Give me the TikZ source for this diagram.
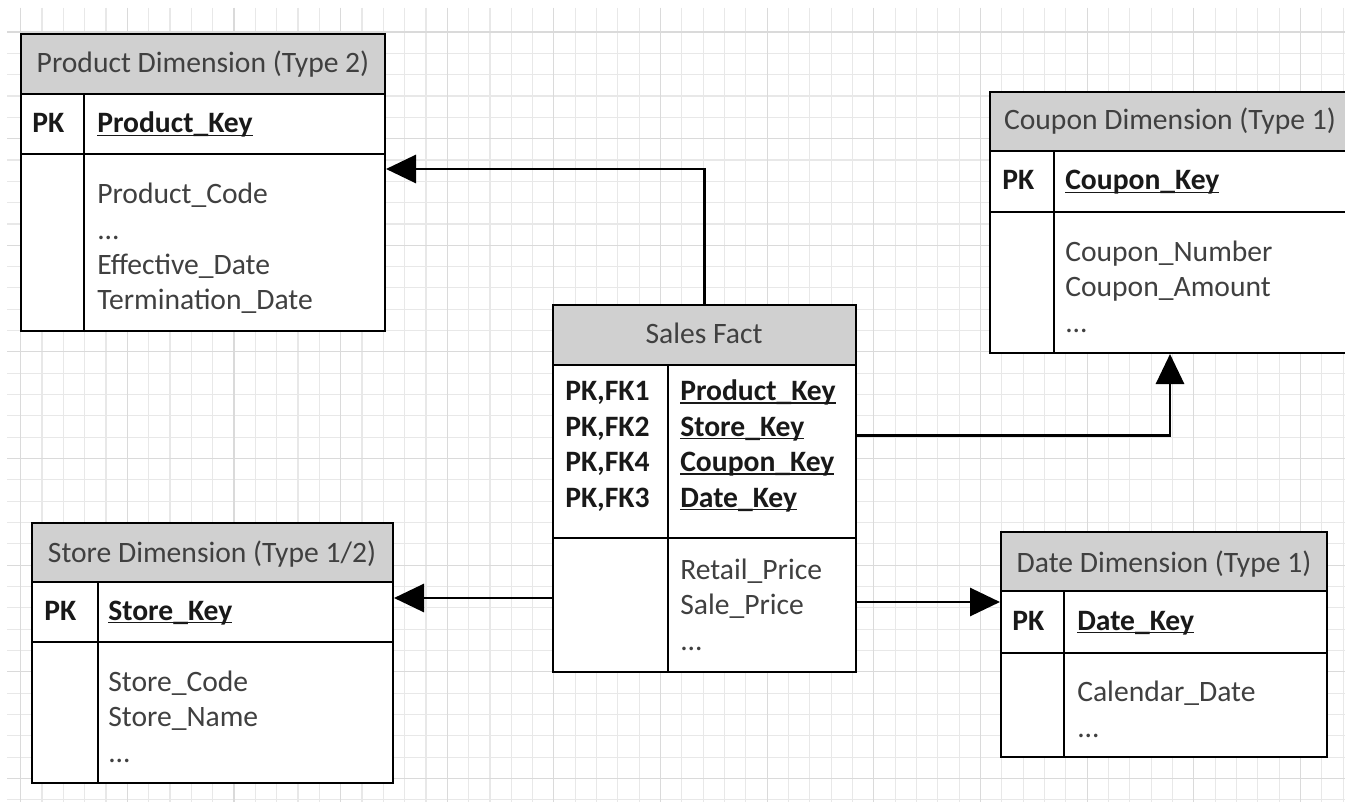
\documentclass[tikz,border=0pt]{standalone}
\usepackage{fontspec}
\setmainfont{Carlito}
\usetikzlibrary{arrows.meta,calc,fit}

\definecolor{headgray}{RGB}{208,208,208}
\definecolor{textgray}{RGB}{64,64,64}
\definecolor{gridminor}{RGB}{232,232,232}
\definecolor{gridmajor}{RGB}{218,218,218}

\newcommand\tblfont{\fontsize{22.2pt}{26.6pt}\selectfont}
\newcommand\keyline[1]{\setbox0\hbox{#1}\rlap{\rule[-2.4pt]{\wd0}{1.2pt}}\box0}

\tikzset{
  tblhead/.style={draw=black, line width=1.5pt, fill=headgray, inner sep=0pt},
  tblbody/.style={draw=black, line width=1.5pt, fill=white, inner sep=0pt},
  tblline/.style={draw=black, line width=1.5pt},
  headtxt/.style={anchor=base, inner sep=0pt, font=\tblfont, text=textgray},
  keytxt/.style={anchor=base west, inner sep=0pt, align=left, font=\tblfont\bfseries, text=black!90},
  attrtxt/.style={anchor=base west, inner sep=0pt, align=left, font=\tblfont, text=textgray},
  fk/.style={line width=2.2pt, -{Triangle[length=22.5pt, width=21pt]}},
  gridline/.style={draw=gridminor, line width=0.8pt},
  gridbold/.style={draw=gridmajor, line width=0.8pt}
}

\begin{document}
\begin{tikzpicture}[x=0.75pt, y=-0.75pt]
        \useasboundingbox (0,0) rectangle (1345,802);
        \fill[white] (0,0) rectangle (1345,802);

        % Grade
        \foreach \i in {0,...,62} \draw[gridline] ({20.7+21.33*\i},8) -- ({20.7+21.33*\i},802);
        \foreach \j in {0,...,36} \draw[gridline] (7,{32+21.33*\j}) -- (1345,{32+21.33*\j});
        \foreach \i in {0,5,...,60} \draw[gridbold] ({20.7+21.33*\i},8) -- ({20.7+21.33*\i},802);
        \foreach \j in {0,5,...,35} \draw[gridbold] (7,{32+21.33*\j}) -- (1345,{32+21.33*\j});

        % Product Dimension
        \node[tblhead, fit={(21,34) (385,94)}] (prodhead) {};
        \node[tblbody, fit={(21,94) (385,154)}] (prodkeys) {};
        \node[tblbody, fit={(21,154) (385,331)}] (prodattr) {};
        \coordinate (proddiv) at (84,94);
        \draw[tblline] (proddiv) -- (proddiv |- prodattr.south);
        \node[headtxt] (prodtitle) at (203,73) {Product Dimension (Type 2)};
        \node[keytxt] (prodpk) at (32,133) {PK};
        \node[keytxt] (prodkey) at (97,133) {\keyline{Product\_Key}};
        \node[attrtxt] (prodcols) at (97,310) {Product\_Code\\...\\Effective\_Date\\Termination\_Date};

        % Sales Fact
        \node[tblhead, fit={(553,305) (856,365)}] (saleshead) {};
        \node[tblbody, fit={(553,365) (856,538)}] (saleskeys) {};
        \node[tblbody, fit={(553,538) (856,672)}] (salesattr) {};
        \coordinate (salesdiv) at (668,365);
        \draw[tblline] (salesdiv) -- (salesdiv |- salesattr.south);
        \node[headtxt] (salestitle) at (704,343) {Sales Fact};
        \node[keytxt] (salespk) at (565,507) {PK,FK1\\PK,FK2\\PK,FK4\\PK,FK3};
        \node[keytxt] (saleskey) at (680,507) {\keyline{Product\_Key}\\\keyline{Store\_Key}\\\keyline{Coupon\_Key}\\\keyline{Date\_Key}};
        \node[attrtxt] (salescols) at (680,650) {Retail\_Price\\Sale\_Price\\...};

        % Coupon Dimension
        \node[tblhead, fit={(990,92) (1350,151)}] (couponhead) {};
        \node[tblbody, fit={(990,151) (1350,212)}] (couponkeys) {};
        \node[tblbody, fit={(990,212) (1350,353)}] (couponattr) {};
        \coordinate (coupondiv) at (1054,151);
        \draw[tblline] (coupondiv) -- (coupondiv |- couponattr.south);
        \node[headtxt] (coupontitle) at (1170,130) {Coupon Dimension (Type 1)};
        \node[keytxt] (couponpk) at (1002,190) {PK};
        \node[keytxt] (couponkey) at (1065,190) {\keyline{Coupon\_Key}};
        \node[attrtxt] (couponcols) at (1065,332) {Coupon\_Number\\Coupon\_Amount\\...};

        % Store Dimension
        \node[tblhead, fit={(32,523) (393,582)}] (storehead) {};
        \node[tblbody, fit={(32,582) (393,642)}] (storekeys) {};
        \node[tblbody, fit={(32,642) (393,783)}] (storeattr) {};
        \coordinate (storediv) at (98,582);
        \draw[tblline] (storediv) -- (storediv |- storeattr.south);
        \node[headtxt] (storetitle) at (212,562) {Store Dimension (Type 1/2)};
        \node[keytxt] (storepk) at (44,620) {PK};
        \node[keytxt] (storekey) at (108,620) {\keyline{Store\_Key}};
        \node[attrtxt] (storecols) at (108,762) {Store\_Code\\Store\_Name\\...};

        % Date Dimension
        \node[tblhead, fit={(1001,532) (1327,591)}] (datehead) {};
        \node[tblbody, fit={(1001,591) (1327,653)}] (datekeys) {};
        \node[tblbody, fit={(1001,653) (1327,757)}] (dateattr) {};
        \coordinate (datediv) at (1064,591);
        \draw[tblline] (datediv) -- (datediv |- dateattr.south);
        \node[headtxt] (datetitle) at (1164,572) {Date Dimension (Type 1)};
        \node[keytxt] (datepk) at (1012,630) {PK};
        \node[keytxt] (datekey) at (1077,630) {\keyline{Date\_Key}};
        \node[attrtxt] (datecols) at (1077,737) {Calendar\_Date\\...};

        % Ligações
        \draw[fk] (saleshead.north) |- ($(prodattr.north east)+(0,16)$);
        \draw[fk] ($(saleskeys.east)+(0,-16)$) -| (couponattr.south);
        \draw[fk] ($(salesattr.west)+(0,-7)$) coordinate (tostore) -- (tostore -| storekeys.east);
        \draw[fk] ($(salesattr.east)+(0,-3)$) coordinate (todate) -- (todate -| datekeys.west);
\end{tikzpicture}
\end{document}
